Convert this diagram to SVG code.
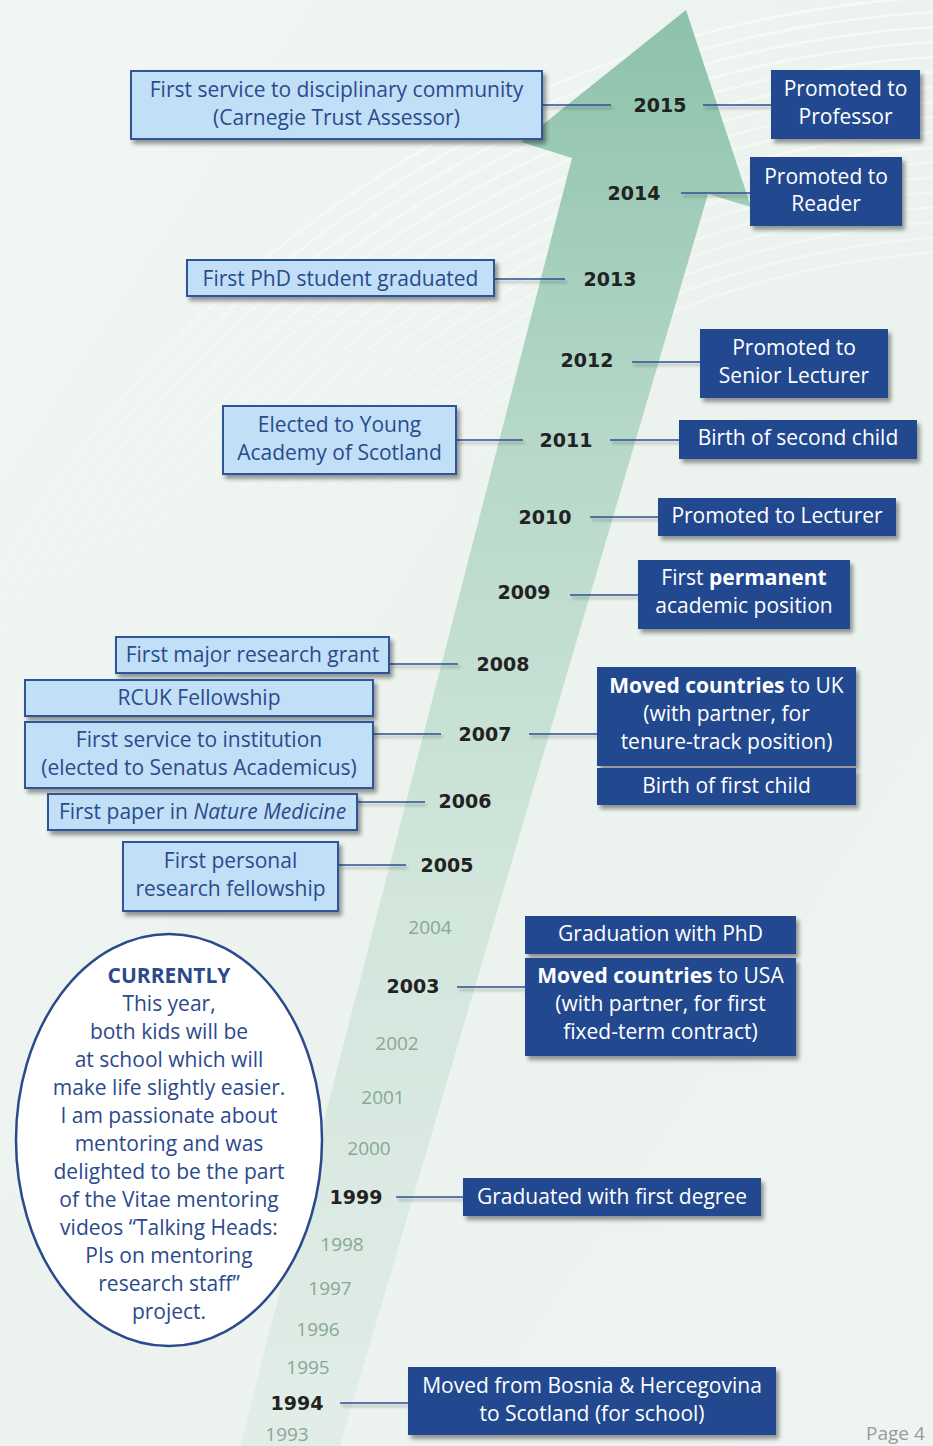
<svg xmlns="http://www.w3.org/2000/svg" width="933" height="1446" viewBox="0 0 933 1446">
<defs>
<linearGradient id="bg" x1="0" y1="0" x2="1" y2="1">
<stop offset="0" stop-color="#f2f6f4"/>
<stop offset="0.5" stop-color="#ecf3ef"/>
<stop offset="1" stop-color="#eef4f1"/>
</linearGradient>
<linearGradient id="arrowGrad" gradientUnits="userSpaceOnUse" x1="0" y1="0" x2="0" y2="1446">
<stop offset="0" stop-color="#8bc1a9"/>
<stop offset="0.3" stop-color="#b6d8c9"/>
<stop offset="0.62" stop-color="#d2e6dc"/>
<stop offset="1" stop-color="#e2ede8"/>
</linearGradient>
<linearGradient id="fade" gradientUnits="userSpaceOnUse" x1="0" y1="0" x2="0" y2="700">
<stop offset="0" stop-color="#fff" stop-opacity="1"/>
<stop offset="1" stop-color="#fff" stop-opacity="0"/>
</linearGradient>
<mask id="arcMask"><rect x="0" y="0" width="933" height="1446" fill="url(#fade)"/></mask>
<filter id="sh" x="-10%" y="-20%" width="125%" height="150%">
<feDropShadow dx="3" dy="4" stdDeviation="2" flood-color="#000" flood-opacity="0.4"/>
</filter>
<filter id="lsh" x="-5%" y="-200%" width="110%" height="500%">
<feDropShadow dx="2" dy="3" stdDeviation="1.5" flood-color="#000" flood-opacity="0.3"/>
</filter>
<style>
.lb{fill:#c1dff6;stroke:#2f5497;stroke-width:2}
.db{fill:#244a8f}
.lt{font-family:"Open Sans","Noto Sans",sans-serif;font-size:21px;fill:#2b4a8c;text-anchor:middle}
.dt{font-family:"Open Sans","Noto Sans",sans-serif;font-size:21px;fill:#ffffff;text-anchor:middle}
.yr{font-family:"DejaVu Sans",sans-serif;font-weight:bold;font-size:19px;fill:#222222;text-anchor:middle}
.yf{font-family:"Open Sans","Noto Sans",sans-serif;font-size:19px;fill:#86a898;text-anchor:middle}
.cn line{stroke:#2d4f95;stroke-width:1.6}
.ct{font-family:"Open Sans","Noto Sans",sans-serif;font-size:21px;fill:#2b4a8c;text-anchor:middle}
</style>
</defs>
<rect x="0" y="0" width="933" height="1446" fill="url(#bg)"/>
<g id="arcs" mask="url(#arcMask)" fill="none" stroke="#ffffff" stroke-width="2.5" opacity="0.55">
<circle cx="1000" cy="1150" r="900"/>
<circle cx="1000" cy="1150" r="915"/>
<circle cx="1000" cy="1150" r="930"/>
<circle cx="1000" cy="1150" r="945"/>
<circle cx="1000" cy="1150" r="960"/>
<circle cx="1000" cy="1150" r="975"/>
<circle cx="1000" cy="1150" r="990"/>
<circle cx="1000" cy="1150" r="1005"/>
<circle cx="1000" cy="1150" r="1020"/>
<circle cx="1000" cy="1150" r="1035"/>
<circle cx="1000" cy="1150" r="1050"/>
<circle cx="1000" cy="1150" r="1065"/>
<circle cx="1000" cy="1150" r="1080"/>
<circle cx="1000" cy="1150" r="1095"/>
<circle cx="1000" cy="1150" r="1110"/>
<circle cx="1000" cy="1150" r="1125"/>
<circle cx="1000" cy="1150" r="1140"/>
<circle cx="1000" cy="1150" r="1155"/>
</g>
<path id="arrow" d="M686,10 L751,207 L708,194 L340,1446 L240,1446 L572,158 L521,142 Z" fill="url(#arrowGrad)"/>

<g id="connectors" class="cn" filter="url(#lsh)">
<line x1="542" y1="105" x2="611" y2="105"/>
<line x1="703" y1="105" x2="771" y2="105"/>
<line x1="681" y1="193" x2="750" y2="193"/>
<line x1="494" y1="279" x2="565" y2="279"/>
<line x1="632" y1="362" x2="700" y2="362"/>
<line x1="456" y1="440" x2="523" y2="440"/>
<line x1="610" y1="440" x2="679" y2="440"/>
<line x1="590" y1="517" x2="658" y2="517"/>
<line x1="570" y1="595" x2="638" y2="595"/>
<line x1="389" y1="664" x2="458" y2="664"/>
<line x1="373" y1="734" x2="441" y2="734"/>
<line x1="529" y1="734" x2="597" y2="734"/>
<line x1="357" y1="802" x2="425" y2="802"/>
<line x1="338" y1="865" x2="406" y2="865"/>
<line x1="457" y1="987" x2="525" y2="987"/>
<line x1="396" y1="1197" x2="463" y2="1197"/>
<line x1="340" y1="1403" x2="408" y2="1403"/>
</g>

<g id="years">
<text class="yr" x="660" y="112">2015</text>
<text class="yr" x="634" y="200">2014</text>
<text class="yr" x="610" y="286">2013</text>
<text class="yr" x="587" y="367">2012</text>
<text class="yr" x="566" y="447">2011</text>
<text class="yr" x="545" y="524">2010</text>
<text class="yr" x="524" y="599">2009</text>
<text class="yr" x="503" y="671">2008</text>
<text class="yr" x="485" y="741">2007</text>
<text class="yr" x="465" y="808">2006</text>
<text class="yr" x="447" y="872">2005</text>
<text class="yf" x="430" y="934">2004</text>
<text class="yr" x="413" y="993">2003</text>
<text class="yf" x="397" y="1050">2002</text>
<text class="yf" x="383" y="1104">2001</text>
<text class="yf" x="369" y="1155">2000</text>
<text class="yr" x="356" y="1204">1999</text>
<text class="yf" x="342" y="1251">1998</text>
<text class="yf" x="330" y="1295">1997</text>
<text class="yf" x="318" y="1336">1996</text>
<text class="yf" x="308" y="1374">1995</text>
<text class="yr" x="297" y="1410">1994</text>
<text class="yf" x="287" y="1441">1993</text>
</g>

<g id="n-carnegie">
<rect class="lb" x="131" y="71" width="411" height="68" filter="url(#sh)"/>
<text class="lt" x="336.5" y="97">First service to disciplinary community</text>
<text class="lt" x="336.5" y="125">(Carnegie Trust Assessor)</text>
</g>
<g id="n-professor">
<rect class="db" x="771" y="70" width="149" height="69" filter="url(#sh)"/>
<text class="dt" x="845.5" y="96">Promoted to</text>
<text class="dt" x="845.5" y="124">Professor</text>
</g>
<g id="n-reader">
<rect class="db" x="750" y="157" width="152" height="69" filter="url(#sh)"/>
<text class="dt" x="826" y="184">Promoted to</text>
<text class="dt" x="826" y="211">Reader</text>
</g>
<g id="n-phd-student">
<rect class="lb" x="187" y="260" width="307" height="36" filter="url(#sh)"/>
<text class="lt" x="340.5" y="286">First PhD student graduated</text>
</g>
<g id="n-senior">
<rect class="db" x="700" y="329" width="188" height="69" filter="url(#sh)"/>
<text class="dt" x="794" y="355">Promoted to</text>
<text class="dt" x="794" y="383">Senior Lecturer</text>
</g>
<g id="n-young-academy">
<rect class="lb" x="223" y="406" width="233" height="68" filter="url(#sh)"/>
<text class="lt" x="339.5" y="432">Elected to Young</text>
<text class="lt" x="339.5" y="460">Academy of Scotland</text>
</g>
<g id="n-second-child">
<rect class="db" x="679" y="420" width="238" height="39" filter="url(#sh)"/>
<text class="dt" x="798" y="445">Birth of second child</text>
</g>
<g id="n-lecturer">
<rect class="db" x="658" y="498" width="238" height="38" filter="url(#sh)"/>
<text class="dt" x="777" y="523">Promoted to Lecturer</text>
</g>
<g id="n-permanent">
<rect class="db" x="638" y="560" width="212" height="69" filter="url(#sh)"/>
<text class="dt" x="744" y="585">First <tspan font-weight="bold">permanent</tspan></text>
<text class="dt" x="744" y="613">academic position</text>
</g>
<g id="n-grant">
<rect class="lb" x="116" y="637" width="273" height="36" filter="url(#sh)"/>
<text class="lt" x="252.5" y="662">First major research grant</text>
</g>
<g id="n-rcuk">
<rect class="lb" x="25" y="680" width="348" height="36" filter="url(#sh)"/>
<text class="lt" x="199" y="705">RCUK Fellowship</text>
</g>
<g id="n-senatus">
<rect class="lb" x="25" y="722" width="348" height="66" filter="url(#sh)"/>
<text class="lt" x="199" y="747">First service to institution</text>
<text class="lt" x="199" y="775">(elected to Senatus Academicus)</text>
</g>
<g id="n-uk">
<rect class="db" x="597" y="667" width="259" height="99" filter="url(#sh)"/>
<text class="dt" x="726.5" y="693"><tspan font-weight="bold">Moved countries</tspan> to UK</text>
<text class="dt" x="726.5" y="721">(with partner,  for</text>
<text class="dt" x="726.5" y="749">tenure-track position)</text>
</g>
<g id="n-first-child">
<rect class="db" x="597" y="768" width="259" height="37" filter="url(#sh)"/>
<text class="dt" x="726.5" y="793">Birth of first child</text>
</g>
<g id="n-nature">
<rect class="lb" x="48" y="794" width="309" height="36" filter="url(#sh)"/>
<text class="lt" x="202.5" y="819">First paper in <tspan font-style="italic">Nature Medicine</tspan></text>
</g>
<g id="n-fellowship">
<rect class="lb" x="123" y="842" width="215" height="69" filter="url(#sh)"/>
<text class="lt" x="230.5" y="868">First personal</text>
<text class="lt" x="230.5" y="896">research fellowship</text>
</g>
<g id="n-phd">
<rect class="db" x="525" y="916" width="271" height="38" filter="url(#sh)"/>
<text class="dt" x="660.5" y="941">Graduation with PhD</text>
</g>
<g id="n-usa">
<rect class="db" x="525" y="958" width="271" height="98" filter="url(#sh)"/>
<text class="dt" x="660.5" y="983"><tspan font-weight="bold">Moved countries</tspan> to USA</text>
<text class="dt" x="660.5" y="1011">(with partner, for first</text>
<text class="dt" x="660.5" y="1039">fixed-term contract)</text>
</g>
<g id="n-degree">
<rect class="db" x="463" y="1178" width="298" height="38" filter="url(#sh)"/>
<text class="dt" x="612" y="1204">Graduated with first degree</text>
</g>
<g id="n-bosnia">
<rect class="db" x="408" y="1367" width="368" height="68" filter="url(#sh)"/>
<text class="dt" x="592" y="1393">Moved from Bosnia &amp; Hercegovina</text>
<text class="dt" x="592" y="1421">to Scotland (for school)</text>
</g>

<g id="n-currently">
<ellipse cx="169" cy="1140" rx="153" ry="206" fill="#ffffff" stroke="#2b4a8c" stroke-width="2.5"/>
<text class="ct" x="169" y="983" font-weight="bold">CURRENTLY</text>
<text class="ct" x="169" y="1011">This year,</text>
<text class="ct" x="169" y="1039">both kids will be</text>
<text class="ct" x="169" y="1067">at school which will</text>
<text class="ct" x="169" y="1095">make life slightly easier.</text>
<text class="ct" x="169" y="1123">I am passionate about</text>
<text class="ct" x="169" y="1151">mentoring and was</text>
<text class="ct" x="169" y="1179">delighted to be the part</text>
<text class="ct" x="169" y="1207">of the Vitae mentoring</text>
<text class="ct" x="169" y="1235">videos “Talking Heads:</text>
<text class="ct" x="169" y="1263">PIs on mentoring</text>
<text class="ct" x="169" y="1291">research staff”</text>
<text class="ct" x="169" y="1319">project.</text>
</g>

<text x="866" y="1440" font-family="'Open Sans','Noto Sans',sans-serif" font-size="19" fill="#9a9a9a">Page 4</text>
</svg>
